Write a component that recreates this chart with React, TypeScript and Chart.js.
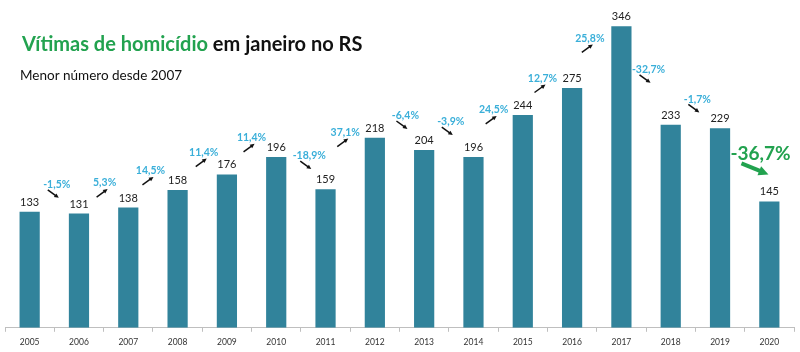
import React, { useEffect, useRef } from "react";
import { Chart, registerables } from "chart.js";

Chart.register(...registerables);

const years = ["2005","2006","2007","2008","2009","2010","2011","2012","2013","2014","2015","2016","2017","2018","2019","2020"];
const victims = [133,131,138,158,176,196,159,218,204,196,244,275,346,233,229,145];
const changeLabels = ["-1,5%","5,3%","14,5%","11,4%","11,4%","-18,9%","37,1%","-6,4%","-3,9%","24,5%","12,7%","25,8%","-32,7%","-1,7%","-36,7%"];
// level (in data units) at which each change label sits
const changeLabelLevel = [164,166,180,201,218,197,224,243,236,250,286,332,296,262,200];
// horizontal shift of each change label from the gap between bars, in categories
const changeLabelShift = [0.05,0.02,-0.05,0.03,0,0.17,-0.1,0.12,0.04,-0.09,-0.1,-0.14,0.05,0.04,0.32];

const titleGreen = "Vítimas de homicídio";
const titleBlack = " em janeiro no RS";
const subtitle = "Menor número desde 2007";

const FONT = "Lato, 'Open Sans', sans-serif";
const BAR = "#31839b";
const CYAN = "#3aafd9";
const GREEN = "#22a24f";

function drawArrow(ctx: CanvasRenderingContext2D, x1: number, y1: number, x2: number, y2: number, color: string, w: number, head: number) {
  const a = Math.atan2(y2 - y1, x2 - x1);
  ctx.save();
  ctx.strokeStyle = color;
  ctx.fillStyle = color;
  ctx.lineWidth = w;
  ctx.beginPath();
  ctx.moveTo(x1, y1);
  ctx.lineTo(x2 - Math.cos(a) * head * 0.6, y2 - Math.sin(a) * head * 0.6);
  ctx.stroke();
  ctx.beginPath();
  ctx.moveTo(x2, y2);
  ctx.lineTo(x2 - head * Math.cos(a - 0.45), y2 - head * Math.sin(a - 0.45));
  ctx.lineTo(x2 - head * Math.cos(a + 0.45), y2 - head * Math.sin(a + 0.45));
  ctx.closePath();
  ctx.fill();
  ctx.restore();
}

const annotPlugin = {
  id: "annot",
  afterDatasetsDraw(chart: any) {
    const ctx: CanvasRenderingContext2D = chart.ctx;
    const xs = chart.scales.x;
    const ys = chart.scales.y;
    ctx.save();
    // value labels
    ctx.font = `11px ${FONT}`;
    ctx.fillStyle = "#222";
    ctx.textAlign = "center";
    ctx.textBaseline = "bottom";
    const meta = chart.getDatasetMeta(0);
    meta.data.forEach((bar: any, i: number) => {
      ctx.fillText(String(victims[i]), bar.x, bar.y - 4);
    });
    // change labels
    changeLabels.forEach((lab, k) => {
      const i = k + 1;
      const last = i === victims.length - 1;
      const cx = xs.getPixelForValue(i - 0.5 + changeLabelShift[k]);
      const cy = ys.getPixelForValue(changeLabelLevel[k]);
      const up = victims[i] > victims[i - 1];
      if (last) {
        ctx.font = `bold 19px ${FONT}`;
        ctx.fillStyle = GREEN;
        ctx.textBaseline = "middle";
        ctx.fillText(lab, cx, cy);
        drawArrow(ctx, cx - 19, cy + 10, cx + 8, cy + 21, GREEN, 4, 11);
      } else {
        ctx.font = `bold 10.5px ${FONT}`;
        ctx.fillStyle = CYAN;
        ctx.textBaseline = "middle";
        ctx.fillText(lab, cx, cy);
        if (up) drawArrow(ctx, cx - 8, cy + 14, cx + 3, cy + 6, "#111", 1.5, 5);
        else drawArrow(ctx, cx - 9, cy + 5, cx + 2, cy + 13, "#111", 1.5, 5);
      }
    });
    ctx.restore();
  },
  afterDraw(chart: any) {
    const ctx: CanvasRenderingContext2D = chart.ctx;
    ctx.save();
    ctx.textAlign = "left";
    ctx.textBaseline = "alphabetic";
    ctx.font = `bold 20px ${FONT}`;
    ctx.fillStyle = GREEN;
    ctx.fillText(titleGreen, 22, 51);
    const w = ctx.measureText(titleGreen).width;
    ctx.fillStyle = "#111";
    ctx.fillText(titleBlack, 22 + w, 51);
    ctx.font = `13.5px ${FONT}`;
    ctx.fillStyle = "#111";
    ctx.fillText(subtitle, 20, 80);
    ctx.restore();
  },
};

export default function App() {
  const ref = useRef<HTMLCanvasElement | null>(null);
  useEffect(() => {
    if (!ref.current) return;
    const chart = new Chart(ref.current, {
      type: "bar",
      data: {
        labels: years,
        datasets: [{ data: victims, backgroundColor: BAR, categoryPercentage: 1, barPercentage: 0.41 }],
      },
      options: {
        animation: false,
        responsive: false,
        maintainAspectRatio: false,
        layout: { padding: { left: 5, right: 6, top: 14, bottom: 0 } },
        plugins: { legend: { display: false }, tooltip: { enabled: false }, title: { display: false } },
        scales: {
          y: { display: false, min: 0, max: 360 },
          x: {
            offset: true,
            grid: { display: true, offset: true, drawOnChartArea: false, drawTicks: true, tickLength: 4, color: "#bfbfbf" },
            border: { display: true, color: "#bfbfbf" },
            ticks: { color: "#333", font: { family: FONT, size: 8.5 }, padding: 5, maxRotation: 0, autoSkip: false },
          },
        },
      },
      plugins: [annotPlugin],
    });
    return () => chart.destroy();
  }, []);
  return (
    <div style={{ position: "absolute", left: 0, top: 0, width: 800, height: 352, background: "#fff" }}>
      <canvas ref={ref} width={800} height={352} style={{ width: 800, height: 352 }} />
    </div>
  );
}
